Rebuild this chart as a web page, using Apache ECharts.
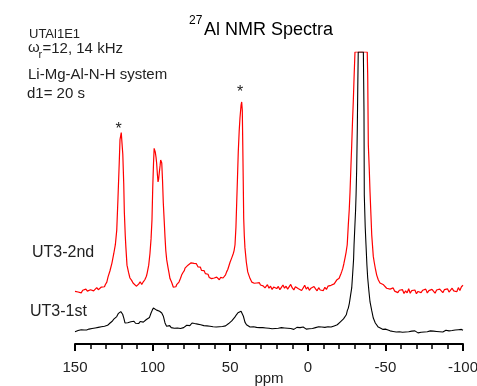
<!DOCTYPE html>
<html>
<head>
<meta charset="utf-8">
<script src="https://cdn.jsdelivr.net/npm/echarts@6/dist/echarts.min.js"></script>
<style>html,body{margin:0;padding:0;background:#fff;}#c{width:477px;height:386px;}</style>
</head>
<body>
<div id="c"></div>
<script>
// x axis: chemical shift (ppm), drawn high -> low
const xTicks = [150, 100, 50, 0, -50, -100];
const seriesNames = ['UT3-2nd', 'UT3-1st'];

// UT3-2nd (red) : [ppm, intensity] ; values >= 100 are clipped at the plot top as in the picture
const ut3_2nd = [
[150,18.0],[149,18.6],[148,17.8],[147,18.3],[146,17.5],[145,18.4],[144,17.9],[143,18.8],[142,18.1],[141,17.7],
[140,18.6],[139,18.9],[138,18.2],[137,18.7],[136,19.3],[135,18.6],[134,18.9],[133,19.5],[132,19.0],[131,19.6],
[130.5,20.3],[129.5,21.2],[128.7,23],[127.5,25.0],[126.2,27.7],[125,31],[124,34],[123.1,39],[122.3,50],[121.5,62],
[121,70],[120.2,72.4],[119.6,72.0],[119.2,65],[118.6,55],[118.2,45],[117.6,37],[117.2,33],[116.5,27],[115.5,24.5],
[114.6,22.6],[113.5,21.8],[112.6,20.9],[111.5,20.4],[110.5,19.8],[110,19.5],[109,20.5],[108,21.3],[107,20.4],[106,21.3],
[105,22.0],[104,23.2],[103.5,24.3],[102.5,27],[101.7,31],[101,36],[100.4,42.5],[99.9,53.8],[99.4,62],[99,67],
[98.6,67.3],[98.3,65.8],[97.8,64],[97.4,62],[96.9,58],[96.5,55.5],[96.1,56.5],[95.7,58.6],[95.2,61],[94.8,63],
[94.4,63.2],[94.1,62],[93.6,56],[93.1,48.3],[92.5,42],[92,36.6],[91.5,32],[90.9,28.8],[90,26],[89.4,24.3],
[88.8,22.4],[88,21.5],[87.5,20.8],[86.7,19.5],[86,19.8],[85.6,19.2],[85,19.6],[84.5,20.3],[83.6,20.9],[83,21.2],
[82,22.5],[81.3,23.6],[80.5,24.4],[79.5,25.2],[79.1,26],[78,26.4],[77.2,27],[76.5,26.6],[76,27.4],[75.2,27.8],
[74.6,27.4],[74,28.1],[73.3,27.6],[72.6,27.0],[71.8,27.5],[70.7,26.4],[70,25.8],[69.2,26.3],[68.5,25.2],[67.5,24.7],
[66.8,25.1],[66,24.1],[65.2,23.6],[64.3,23.9],[63.5,22.8],[62.8,23.4],[62,22.4],[61.1,21.9],[60.3,22.6],[59.5,22.1],
[58.7,22.9],[57.9,22.6],[57,22.0],[56.2,22.8],[55.4,22.3],[54.6,22.6],[53.8,23.2],[53,23.7],[52.3,24.7],[51.5,25.6],
[50.8,26.8],[50.1,28.0],[49,29.5],[48,31],[47.5,32],[46.9,34],[46.3,40],[45.8,48.6],[45.3,57],[44.8,65.8],
[44.2,73],[43.7,77.4],[43,81.8],[42.6,82.9],[42.2,80],[41.9,68.2],[41.6,56],[41.3,43],[40.9,37],[40.5,33],
[39.6,28],[38.7,24.7],[38,23.6],[37.2,22.4],[36.1,21.2],[35.2,21.6],[34.5,20.8],[33.7,21.3],[32.9,20.9],[32,20.4],
[31.2,21.0],[30.5,20.2],[29.7,20.6],[28.8,19.9],[27.6,19.2],[27,19.6],[26,20.3],[25,19.1],[24,19.8],[23,18.7],
[22,19.5],[21,20.1],[20,19.0],[19,19.7],[18,18.6],[17,19.4],[16,20.2],[15,19.1],[14,19.8],[13,18.8],
[12,19.3],[11,20.4],[10,19.2],[9,18.5],[8,19.6],[7,20.0],[6,18.9],[5,19.4],[4,18.3],[3,19.2],
[2,20.1],[1,18.8],[0,19.5],[-1,18.4],[-2,19.1],[-3,18.6],[-4,19.7],[-5,18.9],[-6,18.2],[-7,19.3],
[-8,18.5],[-9,19.0],[-10,18.3],[-11,19.4],[-12,18.7],[-13,19.8],[-14,19.2],[-15,20.1],[-16,19.5],[-17,20.6],
[-18,20.9],[-18.6,21.9],[-19.5,21.5],[-20.2,22.5],[-20.7,23.2],[-21.3,24],[-21.8,24.7],[-22.5,25.8],[-23.2,27.4],[-24,29.5],
[-24.7,31.5],[-25.4,34],[-26.1,40.8],[-26.7,46],[-27.2,52],[-27.8,61],[-28.3,68.2],[-28.8,76],[-29.3,82.9],[-29.8,91],
[-30.4,100],[-38.3,100],[-38.6,92],[-39,68.2],[-39.6,60],[-40.1,52],[-40.7,44],[-41.2,37.3],[-42.2,30],[-42.8,28],
[-43.6,25.6],[-44.4,23.6],[-45.4,22.0],[-46.5,20.9],[-47.5,21.3],[-48.5,20.4],[-49.7,20.2],[-50.8,19.1],[-52,19.6],[-53,18.8],
[-54.1,18.5],[-55,19.2],[-56,18.1],[-57,18.7],[-58,17.6],[-59,18.4],[-60,17.8],[-61,18.6],[-62,17.3],[-63,18.2],
[-64,17.5],[-65,18.9],[-66,17.4],[-67,18.3],[-68,17.7],[-69,18.5],[-70,17.2],[-71,18.0],[-72,18.6],[-73,17.6],
[-74,18.4],[-75,17.9],[-76,18.8],[-77,17.5],[-78,18.3],[-79,17.8],[-80,18.7],[-81,18.1],[-82,17.4],[-83,18.5],
[-84,17.9],[-85,18.8],[-86,18.2],[-87,17.6],[-88,18.6],[-89,18.0],[-90,18.9],[-91,17.8],[-92,18.4],[-93,19.1],
[-94,18.2],[-95,18.7],[-96,17.9],[-97,19.3],[-98,18.3],[-99,19.6],[-100,20.1]
];

// UT3-1st (black)
const ut3_1st = [
[150,4.2],[149,4.0],[148,4.6],[147,4.3],[146,4.9],[145,4.5],[144,4.8],[143,4.4],[142.5,4.8],[141,5.1],
[140,4.7],[139,5.3],[138,5.0],[137,5.5],[136,5.2],[135,5.7],[134,5.5],[133,5.9],[132,5.6],[131,6.1],
[130,6.0],[129,6.4],[128,6.8],[127.4,7.2],[126,7.8],[125,8.5],[124,9.0],[123.1,9.4],[122,10.5],[121,11.0],
[120.5,11.1],[119.3,10.2],[118.5,8.8],[117.8,7.2],[117,6.6],[116,7.3],[115,6.8],[114,7.6],[113,7.0],[112,7.8],
[111,7.1],[110.2,7.6],[109,7.0],[108,7.7],[107,7.2],[106,7.5],[105,7.9],[104,8.4],[103,8.8],[102,9.1],
[101.7,9.4],[101,10.6],[100.2,11.6],[99.5,12.3],[98.5,12.1],[97.4,11.6],[96.5,11.4],[95.5,11.2],[94.1,10.6],[93,9.4],
[92,7.2],[91,6.1],[90,5.8],[89,6.3],[88,5.6],[87,5.9],[86,5.4],[85,6.0],[84,5.5],[83,5.8],
[82,5.3],[81,5.9],[80,5.6],[79,6.1],[78,6.4],[77,6.6],[76,6.3],[75,6.9],[74.6,7.2],[74,6.8],
[73,7.0],[72,6.5],[71,6.8],[70,6.2],[69,6.6],[68,6.0],[67,6.3],[66,5.8],[65,6.2],[64,5.7],
[63,6.1],[62,5.6],[61,5.9],[60,5.5],[59,5.8],[58,5.4],[57,5.9],[56,5.5],[55,6.0],[54,5.7],
[53,6.2],[52,6.6],[51,7.0],[50,7.2],[49,7.9],[48,8.5],[47,9.2],[46,10.0],[45,10.7],[44,11.0],
[43,11.2],[42.4,10.8],[41.5,9.5],[40.5,7.5],[39.5,6.6],[38.5,6.0],[37.2,5.8],[36,5.5],[35,5.9],[34,5.4],
[33,5.7],[32,5.3],[31,5.6],[30,5.2],[29,5.6],[28,5.2],[27,5.5],[26,5.0],[25,5.4],[24,5.7],
[23,5.2],[22,5.6],[21,5.3],[20,5.8],[19,5.4],[18,5.1],[17,5.6],[16,5.2],[15,5.5],[14,5.9],
[13,5.4],[12,5.7],[11,5.3],[10,5.5],[9,5.0],[8,5.4],[7,5.7],[6,5.2],[5,5.6],[4,5.3],
[3,5.8],[2,5.4],[1,5.1],[0,5.5],[-1,5.2],[-2,5.7],[-3,5.3],[-4,5.0],[-5,5.6],[-6,5.4],
[-7,5.9],[-8,5.5],[-9,5.8],[-10,5.2],[-11,5.7],[-12,5.4],[-13,5.9],[-14,5.5],[-15,5.8],[-16,6.0],
[-17,6.2],[-18,6.4],[-19,6.6],[-20,7.0],[-21,7.6],[-22,8.2],[-23,8.6],[-24,8.9],[-24.8,10],[-25.5,11.5],
[-26.1,12.3],[-26.8,14],[-27.5,16.5],[-28.3,19.2],[-28.9,24],[-29.5,29],[-29.8,34],[-30.3,40],[-30.8,46],[-31.1,51],
[-31.5,60],[-31.9,74],[-32.2,88],[-32.5,100],[-35.8,100],[-36.0,90],[-36.2,80],[-36.4,51],[-37,40],[-37.5,34],
[-38.1,27],[-38.6,22.6],[-39.4,18],[-40.1,14.4],[-41.2,11.4],[-42.2,8.9],[-43.5,7.2],[-45.4,5.8],[-47,5.4],[-48.5,5.0],
[-50,5.1],[-51.7,4.8],[-53,4.5],[-54,4.9],[-55,4.3],[-56,4.6],[-57,4.1],[-58,4.5],[-59,4.2],[-60,4.7],
[-61,4.0],[-62,4.4],[-63,4.1],[-64,4.6],[-65,4.2],[-66,3.9],[-67,4.4],[-68,4.0],[-69,4.5],[-70,4.1],
[-71,3.8],[-72,4.3],[-73,4.0],[-74,4.4],[-75,4.1],[-76,4.6],[-77,4.2],[-78,4.0],[-79,4.5],[-80,4.1],
[-81,4.4],[-82,4.0],[-83,4.3],[-84,4.6],[-85,4.2],[-86,4.5],[-87,4.1],[-88,4.4],[-89,4.7],[-90,4.3],
[-91,4.5],[-92,4.2],[-93,4.6],[-94,4.4],[-95,4.8],[-96,4.5],[-97,4.9],[-98,4.6],[-99,5.0],[-100,4.7]
];

const FONT = 'Liberation Sans, Arial, sans-serif';
const chart = echarts.init(document.getElementById('c'), null, {renderer: 'canvas'});
const txt = (x, y, text, size, color) => ({
  type: 'text', x: x, y: y, silent: true,
  style: {text: text, fontSize: size, fontFamily: FONT, fill: color || '#222', verticalAlign: 'middle', align: 'left'}
});
chart.setOption({
  animation: false,
  backgroundColor: '#fff',
  grid: {left: 75, right: 14, top: 52, bottom: 42, containLabel: false, outerBoundsMode: 'none'},
  xAxis: {
    type: 'value', min: -100, max: 150, interval: 50, inverse: true,
    axisLine: {show: true, lineStyle: {color: '#000', width: 2}},
    axisTick: {show: true, length: 7, lineStyle: {color: '#000', width: 2}},
    minorTick: {show: true, splitNumber: 5, length: 5, lineStyle: {color: '#000', width: 1.5}},
    splitLine: {show: false},
    axisLabel: {fontSize: 15, color: '#222', fontFamily: FONT, margin: 16, showMaxLabel: true, showMinLabel: true},
    name: 'ppm', nameLocation: 'middle', nameGap: 27, nameMoveOverlap: false,
    nameTextStyle: {fontSize: 15, color: '#222', fontFamily: FONT}
  },
  yAxis: {type: 'value', min: 0, max: 100, show: false},
  series: [
    {name: seriesNames[0], type: 'line', data: ut3_2nd, showSymbol: false, clip: true,
     lineStyle: {color: '#ff0000', width: 1.2}},
    {name: seriesNames[1], type: 'line', data: ut3_1st, showSymbol: false, clip: true,
     lineStyle: {color: '#000000', width: 1.1}}
  ],
  graphic: [
    txt(189, 21, '27', 12, '#000'),
    txt(204, 30, 'Al NMR Spectra', 18, '#000'),
    txt(29, 34, 'UTAl1E1', 13),
    txt(28, 48, 'ω', 15),
    txt(38.5, 55, 'r', 11),
    txt(42.5, 49, '=12, 14 kHz', 15),
    txt(28, 75, 'Li-Mg-Al-N-H system', 15),
    txt(27, 94, 'd1= 20 s', 15),
    txt(32, 252.5, seriesNames[0], 16),
    txt(30, 311.5, seriesNames[1], 16),
    txt(115.5, 129.5, '*', 16),
    txt(237, 93, '*', 16)
  ]
});
</script>
</body>
</html>
